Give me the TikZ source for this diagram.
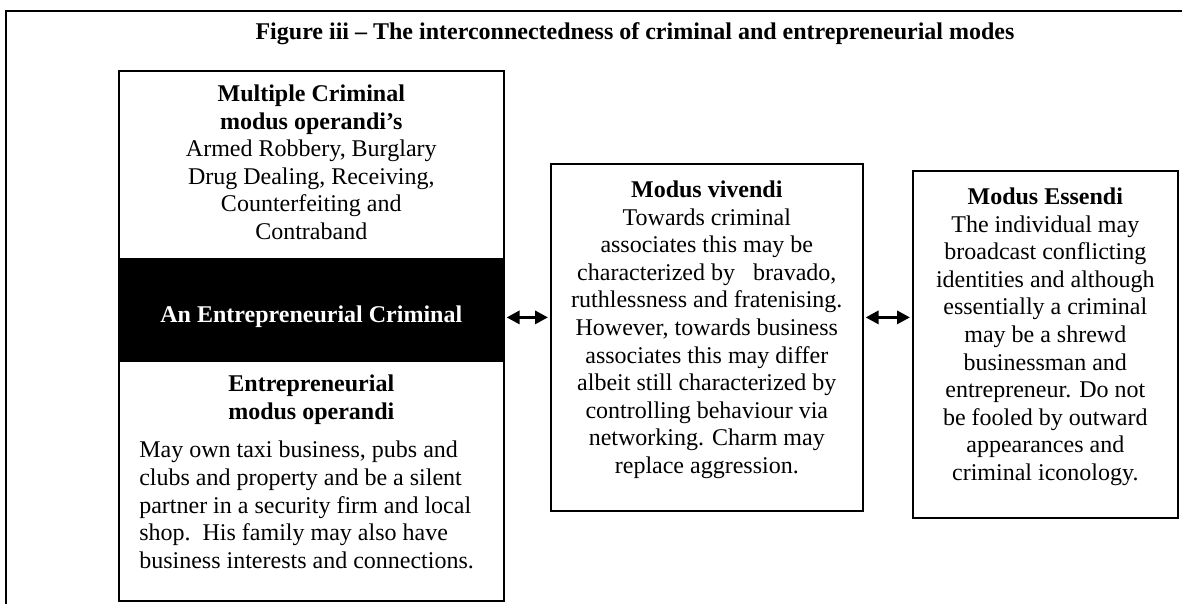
\documentclass[tikz,border=0pt]{standalone}
\usepackage{fontspec}
\setmainfont{Liberation Serif}
\usepackage{tikz}
\usetikzlibrary{positioning,arrows.meta}

\newcommand{\modefont}{\fontsize{12pt}{13.8pt}\selectfont}
\newcommand{\modetext}[3]{\parbox[t][#2][t]{#1}{\centering\vspace*{7pt}#3}}
\tikzset{
   modebox/.style={draw,line width=.8pt,inner sep=0pt,anchor=north west,font=\modefont},
   duplex/.style={{Triangle[length=6.5pt,width=6.5pt]}-{Triangle[length=6.5pt,width=6.5pt]},
      line width=1.6pt,shorten <=1pt,shorten >=1pt}
}

\begin{document}
\begin{tikzpicture}[x=.5pt,y=-.5pt]
   \useasboundingbox (0,0) rectangle (1182,604);
   %frame
   \draw[line width=1pt] (6,604) |- (1182,11);
   \node[font=\modefont\bfseries] (title) at (635,34)
      {Figure iii – The interconnectedness of criminal and entrepreneurial modes};
   %left column
   \node[modebox] (multi) at (118,70) {\modetext{192.5pt}{94pt}{%
      \textbf{Multiple Criminal\\modus operandi's}\\
      Armed Robbery, Burglary\\Drug Dealing, Receiving,\\Counterfeiting and\\Contraband}};
   \node[modebox,fill=black,text=white,font=\modefont\bfseries,text height=13pt,text depth=0pt,
      minimum width=192.5pt,minimum height=49.5pt,below=0pt of multi] (crim)
      {An Entrepreneurial Criminal};
   \node[modebox,below=0pt of crim] (enter) {\modetext{192.5pt}{120pt}{%
      \textbf{Entrepreneurial\\modus operandi}\\[5.5pt]
      \begin{minipage}[t]{172pt}\raggedright
      May own taxi business, pubs and\\clubs and property and be a silent\\
      partner in a security firm and local\\shop.\ \ His family may also have\\
      business interests and connections.\end{minipage}}};
   %modus vivendi and essendi
   \node[modebox] (vivendi) at (550,163) {\modetext{156pt}{173.5pt}{%
      \vspace*{1.5pt}\textbf{Modus vivendi}\\Towards criminal\\associates this may be\\
      characterized by\ \ \ bravado,\\ruthlessness and fratenising.\\
      However, towards business\\associates this may differ\\
      albeit still characterized by\\controlling behaviour via\\
      networking. Charm may\\replace aggression.}};
   \node[modebox] (essendi) at (912,170) {\modetext{132.5pt}{173.5pt}{%
      \vspace*{1.5pt}\textbf{Modus Essendi}\\The individual may\\broadcast conflicting\\
      identities and although\\essentially a criminal\\may be a shrewd\\
      businessman and\\entrepreneur. Do not\\be fooled by outward\\
      appearances and\\criminal iconology.}};
   %arrows
   \draw[duplex] ([yshift=-3.75pt]crim.east) -- ([yshift=-3.75pt]crim.east -| vivendi.west);
   \draw[duplex] ([yshift=-3.75pt]crim.east -| vivendi.east) -- ([yshift=-3.75pt]crim.east -| essendi.west);
\end{tikzpicture}
\end{document}
